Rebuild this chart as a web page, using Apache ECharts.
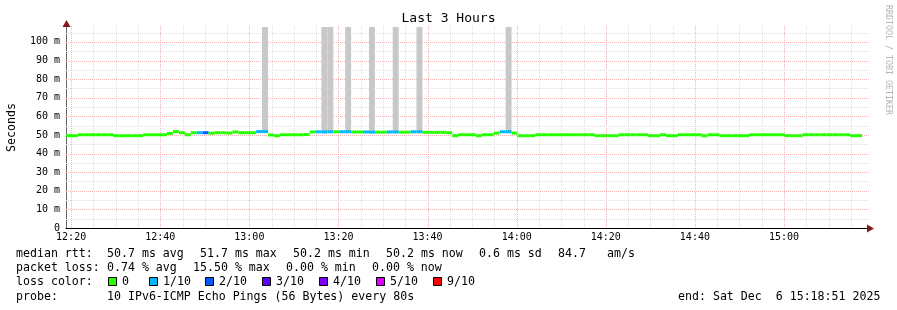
<!DOCTYPE html>
<html><head><meta charset="utf-8">
<script src="https://cdn.jsdelivr.net/npm/echarts@6/dist/echarts.min.js"></script>
<style>html,body{margin:0;padding:0;background:#fff}#c{width:897px;height:310px}</style>
</head><body><div id="c"></div>
<script>
// ---- data ----
const startTime = 44331;   // 12:18:51 (seconds of day)
const endTime = 55131;     // 15:18:51
const stepSec = 80;
// median rtt per 80 s step (ms), null = no data
const median = [
  49.6,49.6,50.1,50.1,50.1,50.1,50.1,50.1,49.6,49.6,
  49.6,49.6,49.6,50.1,50.1,50.1,50.1,50.8,51.8,51.2,
  50.1,51.2,51.2,51.2,50.9,51.2,51.2,51.0,51.6,51.2,
  51.2,51.2,51.8,51.8,50.0,49.6,50.1,50.1,50.1,50.1,
  50.2,51.6,51.7,51.6,51.7,51.7,51.7,51.7,51.6,51.6,
  51.6,51.5,51.5,51.5,51.6,51.6,51.5,51.5,51.7,51.7,
  51.4,51.4,51.4,51.4,51.2,49.6,50.1,50.1,50.1,49.6,
  50.1,50.1,51.0,51.7,51.7,51.0,49.6,49.6,49.6,50.1,
  50.1,50.1,50.1,50.1,50.1,50.1,50.1,50.1,50.1,49.6,
  49.6,49.6,49.6,50.1,50.1,50.1,50.1,50.1,49.6,49.6,
  50.1,49.6,49.6,50.1,50.1,50.1,50.1,49.6,50.1,50.1,
  49.6,49.6,49.6,49.6,49.6,50.1,50.1,50.1,50.1,50.1,
  50.1,49.6,49.6,49.6,50.1,50.1,50.1,50.1,50.1,50.1,
  50.1,50.1,49.6,49.6,null
];
// lost pings (out of 10) per step
const loss = [
  0,0,0,0,0,0,0,0,0,0, 0,0,0,0,0,0,0,0,0,0,
  0,0,1,2,0,0,0,0,0,0, 0,0,1,1,0,0,0,0,0,0,
  0,0,1,1,1,0,1,1,0,0, 1,1,0,0,1,1,0,0,1,1,
  0,0,0,0,0,0,0,0,0,0, 0,0,0,1,1,0,0,0,0,0,
  0,0,0,0,0,0,0,0,0,0, 0,0,0,0,0,0,0,0,0,0,
  0,0,0,0,0,0,0,0,0,0, 0,0,0,0,0,0,0,0,0,0,
  0,0,0,0,0,0,0,0,0,0, 0,0,0,0,0
];
// smoke (ping spread) for selected steps
const smokeStep = [24, 27, 33, 43, 44, 47, 51, 55, 59, 74];
const smokeLo   = [51.0, 50.9, 51.8, 51.6, 51.7, 51.7, 51.5, 51.6, 51.7, 51.7];
const smokeHi   = [51.7, 51.3, 115, 115, 115, 115, 115, 115, 115, 115];

const yTickValues = [0,10,20,30,40,50,60,70,80,90,100];
const xTickLabels = ['12:20','12:40','13:00','13:20','13:40','14:00','14:20','14:40','15:00'];
const lossLabels = ['0','1/10','2/10','3/10','4/10','5/10','9/10'];
const lossColors = ['#26ff00','#00b8ff','#0059ff','#5e00ff','#7e00ff','#dd00ff','#ff0000'];
const statsRtt = ['median rtt:','50.7 ms avg','51.7 ms max','50.2 ms min','50.2 ms now','0.6 ms sd','84.7','am/s'];
const statsLoss = ['packet loss:','0.74 % avg','15.50 % max','0.00 % min','0.00 % now'];
const probeText = ['probe:','10 IPv6-ICMP Echo Pings (56 Bytes) every 80s'];
const endText = 'end: Sat Dec  6 15:18:51 2025';

// ---- helpers ----
const MONO = 'DejaVu Sans Mono';
const yMax = 108;
const toSec = s => { const [h,m] = s.split(':').map(Number); return h*3600+m*60; };
const fmt = v => { const h = Math.floor(v/3600), m = Math.round((v%3600)/60); return String(h).padStart(2,'0')+':'+String(m).padStart(2,'0'); };
const lossColorOf = n => n >= 9 ? lossColors[6] : lossColors[Math.min(n,5)];

const gridX = [];
for (let t = toSec('12:20'); t < endTime; t += 300) gridX.push([t, (t - toSec('12:20')) % 1200 === 0 ? 1 : 0]);
const gridY = [];
for (let v = 5; v <= 105; v += 5) gridY.push([v, v % 10 === 0 ? 1 : 0]);

const medianData = [];
median.forEach((v,i) => { if (v != null) medianData.push([startTime + i*stepSec, v, loss[i]]); });
const smokeData = smokeStep.map((s,k) => [startTime + s*stepSec, smokeLo[k], smokeHi[k]]);

const chart = echarts.init(document.getElementById('c'), null, {renderer: 'canvas'});

const graphics = [];
const textEl = (x, y, t, extra) => Object.assign({type:'text', x, y, style:{text:t, font:'11.6px "'+MONO+'"', fill:'#000', textVerticalAlign:'middle'}}, extra||{});
const rttX = [16,107,200,293,386,479,558,607];
statsRtt.forEach((t,k) => graphics.push(textEl(rttX[k], 254, t)));
const lossX = [16,107,193,286,372];
statsLoss.forEach((t,k) => graphics.push(textEl(lossX[k], 268, t)));
graphics.push(textEl(16, 282, 'loss color:'));
const sqX = [108,149,205,262,319,376,433];
lossLabels.forEach((t,k) => {
  graphics.push({type:'rect', shape:{x:sqX[k]+0.5, y:277.5, width:8, height:8}, style:{fill:lossColors[k], stroke:'#000', lineWidth:1}});
  graphics.push(textEl(sqX[k]+14, 282, t));
});
graphics.push(textEl(16, 297, probeText[0]));
graphics.push(textEl(107, 297, probeText[1]));
graphics.push(textEl(678, 297, endText));
graphics.push({type:'text', x:888, y:5, rotation:-Math.PI/2, style:{text:'RRDTOOL / TOBI OETIKER', font:'8.3px "'+MONO+'"', fill:'#b4b4b4', textVerticalAlign:'middle'}});
// axis arrows
graphics.push({type:'polygon', shape:{points:[[66.5,20],[62.5,27],[70.5,27]]}, style:{fill:'#7f1a1a'}, z:10});
graphics.push({type:'polygon', shape:{points:[[874,228.5],[867,224.5],[867,232.5]]}, style:{fill:'#7f1a1a'}, z:10});

chart.setOption({
  animation: false,
  backgroundColor: '#fff',
  textStyle: {fontFamily: MONO},
  title: {text:'Last 3 Hours', left:'center', top:12, padding:0, textStyle:{fontFamily:MONO, fontSize:13, fontWeight:'normal', color:'#000'}},
  grid: {left:66, right:29, top:27, bottom:82, containLabel:false, outerBoundsMode:'none'},
  xAxis: {
    type:'value', min:startTime, max:endTime,
    axisLine:{show:true, lineStyle:{color:'#000', width:1}},
    axisTick:{show:false},
    splitLine:{show:false},
    axisLabel:{customValues: xTickLabels.map(toSec), formatter: v => fmt(v), fontFamily:MONO, fontSize:10, color:'#000', margin:4}
  },
  yAxis: {
    type:'value', min:0, max:yMax, interval:10,
    name:'Seconds', nameLocation:'middle', nameGap:48, nameRotate:90,
    nameTextStyle:{fontFamily:MONO, fontSize:11.6, color:'#000'},
    axisLine:{show:true, lineStyle:{color:'#666', width:1}},
    axisTick:{show:false},
    splitLine:{show:false},
    axisLabel:{showMaxLabel:false, formatter: v => v === 0 ? '0' : v + ' m', fontFamily:MONO, fontSize:10, color:'#000', margin:6}
  },
  graphic: graphics,
  series: [
    {
      type:'custom', name:'gridX', silent:true, z:1, data: gridX,
      renderItem(params, api) {
        const p0 = api.coord([api.value(0), 0]);
        const p1 = api.coord([api.value(0), yMax]);
        const x = Math.round(p0[0]) + 0.5;
        return {type:'line', shape:{x1:x, y1:p1[1]-1, x2:x, y2:p0[1]}, style:{stroke: api.value(1) ? '#f5b3b3' : '#e0e0e0', lineWidth:1, lineDash:[1,1]}};
      }
    },
    {
      type:'custom', name:'gridY', silent:true, z:1, data: gridY,
      encode:{y:0},
      renderItem(params, api) {
        const p0 = api.coord([startTime, api.value(0)]);
        const p1 = api.coord([endTime, api.value(0)]);
        const y = Math.round(p0[1]) + 0.5;
        return {type:'line', shape:{x1:p0[0], y1:y, x2:p1[0]+2, y2:y}, style:{stroke: api.value(1) ? '#f5b3b3' : '#e0e0e0', lineWidth:1, lineDash:[1,1]}};
      }
    },
    {
      type:'custom', name:'smoke', silent:true, z:2, clip:true, data: smokeData,
      renderItem(params, api) {
        const a = api.coord([api.value(0), Math.min(api.value(2), yMax)]);
        const b = api.coord([api.value(0) + stepSec, api.value(1)]);
        return {type:'rect', shape:{x:a[0], y:a[1], width:b[0]-a[0], height:b[1]-a[1]}, style:{fill:'#c8c8c8'}};
      }
    },
    {
      type:'custom', name:'median', silent:true, z:3, data: medianData,
      renderItem(params, api) {
        const a = api.coord([api.value(0), api.value(1)]);
        const b = api.coord([api.value(0) + stepSec, api.value(1)]);
        return {type:'rect', shape:{x:a[0], y:a[1]-1.5, width:b[0]-a[0], height:3}, style:{fill: lossColorOf(api.value(2))}};
      }
    }
  ]
});
</script></body></html>
